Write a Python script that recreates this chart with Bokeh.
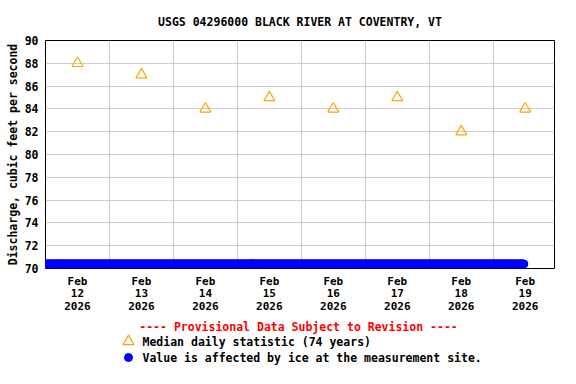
import pandas as pd
from bokeh.plotting import figure
from bokeh.layouts import column
from bokeh.models import Range1d, FixedTicker
from bokeh.core.properties import value
from bokeh.embed import file_html
from bokeh.resources import INLINE

# ---- data ----
median_dates = ["2026-02-12 12:00", "2026-02-13 12:00", "2026-02-14 12:00", "2026-02-15 12:00",
                "2026-02-16 12:00", "2026-02-17 12:00", "2026-02-18 12:00", "2026-02-19 12:00"]
median_values = [88, 87, 84, 85, 84, 85, 82, 84]

ice_start = "2026-02-12 00:00"
ice_end = "2026-02-19 11:30"
ice_value = 70.4          # ice-affected values are drawn at the bottom of the axis

x_start = "2026-02-12 00:00"
x_end = "2026-02-19 23:00"
y_start, y_end = 70, 90
y_ticks = [70, 72, 74, 76, 78, 80, 82, 84, 86, 88, 90]
grid_days = ["2026-02-12", "2026-02-13", "2026-02-14", "2026-02-15", "2026-02-16",
             "2026-02-17", "2026-02-18", "2026-02-19"]
x_tick_labels = ["Feb\n12\n2026", "Feb\n13\n2026", "Feb\n14\n2026", "Feb\n15\n2026",
                 "Feb\n16\n2026", "Feb\n17\n2026", "Feb\n18\n2026", "Feb\n19\n2026"]

title_text = "USGS 04296000 BLACK RIVER AT COVENTRY, VT"
y_label = "Discharge, cubic feet per second"
header_text = "---- Provisional Data Subject to Revision ----"
legend_median = "Median daily statistic (74 years)"
legend_ice = "Value is affected by ice at the measurement site."

FONT = "DejaVu Sans Mono"
ORANGE = "orange"
BLUE = "#0000ff"

# layout (page pixels)
W = 576
FRAME_L, FRAME_R = 45, 554
MAIN_H, LEG_H = 318, 66


def ms(s):
    return pd.Timestamp(s).value / 1e6


med_x = [pd.Timestamp(d) for d in median_dates]
ice_x = list(pd.date_range(ice_start, ice_end, freq="15min"))
ice_y = [ice_value] * len(ice_x)

p = figure(width=W, height=MAIN_H, x_axis_type="datetime", output_backend="svg",
           toolbar_location=None, min_border_left=FRAME_L, min_border_right=W - FRAME_R,
           min_border_top=40, min_border_bottom=50, title=title_text)
p.x_range = Range1d(pd.Timestamp(x_start), pd.Timestamp(x_end))
p.y_range = Range1d(y_start, y_end)

p.title.align = "center"
p.title.text_font = FONT
p.title.text_font_style = "bold"
p.title.text_font_size = "11.5px"
p.title.text_color = "black"
p.title.standoff = 24

p.outline_line_color = "black"
p.outline_line_width = 1
p.background_fill_color = "white"
p.border_fill_color = "white"

# grids
p.xgrid.ticker = FixedTicker(ticks=[ms(d) for d in grid_days])
p.ygrid.ticker = FixedTicker(ticks=y_ticks)
for g in (p.xgrid, p.ygrid):
    g.grid_line_color = "#cccccc"
    g.grid_line_width = 1

# x axis
tick_vals = [ms(d) for d in median_dates]
p.xaxis.ticker = FixedTicker(ticks=tick_vals)
p.xaxis.major_label_overrides = {t: lab for t, lab in zip(tick_vals, x_tick_labels)}
p.xaxis.axis_line_color = None
p.xaxis.major_tick_line_color = None
p.xaxis.minor_tick_line_color = None
p.xaxis.major_tick_out = 0
p.xaxis.major_label_standoff = 6
p.xaxis.major_label_text_font = FONT
p.xaxis.major_label_text_font_style = "bold"
p.xaxis.major_label_text_font_size = "11px"
p.xaxis.major_label_text_color = "black"
p.xaxis.major_label_text_line_height = 0.98

# y axis
p.yaxis.ticker = FixedTicker(ticks=y_ticks)
p.yaxis.axis_line_color = None
p.yaxis.major_tick_line_color = None
p.yaxis.minor_tick_line_color = None
p.yaxis.major_tick_out = 0
p.yaxis.major_label_standoff = 7
p.yaxis.major_label_text_font = FONT
p.yaxis.major_label_text_font_style = "bold"
p.yaxis.major_label_text_font_size = "11.5px"
p.yaxis.major_label_text_color = "black"
p.yaxis.axis_label = y_label
p.yaxis.axis_label_standoff = 2
p.yaxis.axis_label_text_font = FONT
p.yaxis.axis_label_text_font_style = "bold"
p.yaxis.axis_label_text_font_size = "11.5px"
p.yaxis.axis_label_text_color = "black"

# data
p.scatter(ice_x, ice_y, marker="circle", size=8, fill_color=BLUE, line_color=BLUE)
p.scatter(med_x, median_values, marker="triangle", size=11, fill_color=None,
          line_color=ORANGE, line_width=1.2)

# ---- legend panel below (page-pixel coordinates, y downwards) ----
# the column layout aligns this panel's frame with the main frame, so map that span
leg = figure(width=W, height=LEG_H, output_backend="svg", toolbar_location=None,
             x_range=Range1d(FRAME_L, FRAME_R), y_range=Range1d(MAIN_H + LEG_H, MAIN_H),
             min_border=0, min_border_left=FRAME_L, min_border_right=W - FRAME_R,
             min_border_top=0, min_border_bottom=0)
leg.axis.visible = False
leg.grid.visible = False
leg.outline_line_color = None
leg.background_fill_color = "white"
leg.border_fill_color = "white"

text_kw = dict(text_font=value(FONT), text_font_style="bold", text_font_size="11.5px",
               text_baseline="middle")
leg.text(x=[298], y=[326.5], text=[header_text], text_color="red", text_align="center", **text_kw)
leg.scatter(x=[128], y=[341], marker="triangle", size=11, fill_color=None,
            line_color=ORANGE, line_width=1.2)
leg.text(x=[142], y=[341.5], text=[legend_median], text_color="black", text_align="left", **text_kw)
leg.scatter(x=[128], y=[357], marker="circle", size=8, fill_color=BLUE, line_color=BLUE)
leg.text(x=[142], y=[357.5], text=[legend_ice], text_color="black", text_align="left", **text_kw)

layout = column(p, leg, spacing=0)
open("out.html", "w").write(file_html(layout, INLINE))
